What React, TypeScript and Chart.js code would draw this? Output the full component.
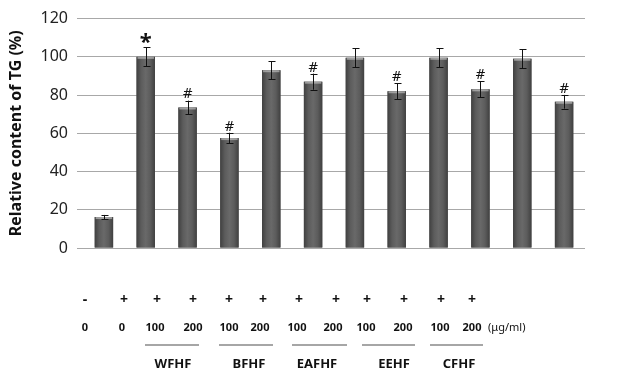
import React, { useEffect, useRef } from "react";
import { Chart, registerables } from "chart.js";
Chart.register(...registerables);

const categories = ["Normal", "Model", "WFHF 100", "WFHF 200", "BFHF 100", "BFHF 200", "EAFHF 100", "EAFHF 200", "EEHF 100", "EEHF 200", "CFHF 100", "CFHF 200"];
const values = [16.2, 100, 73.5, 57.5, 93, 87, 99.5, 82, 99.5, 83, 99, 76.5];
const errors = [1.1, 4.9, 3.6, 2.8, 4.8, 4.2, 4.9, 4.2, 5, 4.2, 5, 3.6];
const marks = ["", "*", "#", "#", "", "#", "", "#", "", "#", "", "#"];
const signs = ["-", "+", "+", "+", "+", "+", "+", "+", "+", "+", "+", "+"];
const doses = ["0", "0", "100", "200", "100", "200", "100", "200", "100", "200", "100", "200"];
const groups = ["WFHF", "BFHF", "EAFHF", "EEHF", "CFHF"];
const unitLabel = "(\u03bcg/ml)";
const yTitle = "Relative content of TG (%)";

// layout of the free-text annotation table below the chart (pixels)
const signX = [85, 124, 157, 193, 229, 263, 299, 336, 367, 404, 441, 472];
const doseX = [85, 122, 155, 193, 229, 260, 297, 333, 366, 403, 440, 472];
const groupSpan = [[145, 199], [219, 273], [292, 347], [362, 415], [430, 483]];
const groupX = [173, 249, 317, 394, 459];

const FONT = "'Noto Sans', 'DejaVu Sans', sans-serif";

export default function App() {
  const ref = useRef<HTMLCanvasElement>(null);
  useEffect(() => {
    document.body.style.margin = "0";
    const barPlugin = {
      id: "barDecor",
      afterDatasetsDraw(chart: any) {
        const ctx = chart.ctx;
        const meta = chart.getDatasetMeta(0);
        const y = chart.scales.y;
        ctx.save();
        meta.data.forEach((bar: any, i: number) => {
          const w = bar.width;
          const left = bar.x - w / 2;
          const top = bar.y;
          const h = bar.base - bar.y;
          const g = ctx.createLinearGradient(left, 0, left + w, 0);
          g.addColorStop(0, "#404040");
          g.addColorStop(0.25, "#5c5c5c");
          g.addColorStop(0.5, "#696969");
          g.addColorStop(0.75, "#5c5c5c");
          g.addColorStop(1, "#404040");
          ctx.fillStyle = g;
          ctx.fillRect(left, top, w, h);
          ctx.fillStyle = "rgba(205,205,205,0.6)";
          ctx.fillRect(left + 1, top, w - 2, 2);
          // error bars
          const hi = y.getPixelForValue(values[i] + errors[i]);
          const lo = y.getPixelForValue(values[i] - errors[i]);
          ctx.strokeStyle = "#111";
          ctx.lineWidth = 1;
          ctx.beginPath();
          const cx = Math.round(bar.x) + 0.5;
          ctx.moveTo(cx, hi);
          ctx.lineTo(cx, lo);
          ctx.moveTo(cx - 3, Math.round(hi) + 0.5);
          ctx.lineTo(cx + 4, Math.round(hi) + 0.5);
          ctx.moveTo(cx - 3, Math.round(lo) + 0.5);
          ctx.lineTo(cx + 4, Math.round(lo) + 0.5);
          ctx.stroke();
          // significance marks
          if (marks[i]) {
            ctx.fillStyle = "#111";
            ctx.textAlign = "center";
            ctx.textBaseline = "bottom";
            if (marks[i] === "*") {
              ctx.font = `bold 22px ${FONT}`;
              ctx.fillText(marks[i], bar.x, hi + 6);
            } else {
              ctx.font = `13px 'DejaVu Serif', serif`;
              ctx.fillText(marks[i], bar.x, hi + 1);
            }
          }
        });
        // annotation table below
        ctx.fillStyle = "#111";
        ctx.textAlign = "center";
        ctx.textBaseline = "middle";
        ctx.font = `bold 14px ${FONT}`;
        signs.forEach((s, i) => ctx.fillText(s, signX[i], 300));
        ctx.font = `bold 11px ${FONT}`;
        doses.forEach((d, i) => ctx.fillText(d, doseX[i], 328));
        ctx.textAlign = "left";
        ctx.font = `11px ${FONT}`;
        ctx.fillText(unitLabel, 488, 328);
        ctx.strokeStyle = "#888";
        ctx.lineWidth = 1.5;
        groupSpan.forEach(([a, b]) => {
          ctx.beginPath();
          ctx.moveTo(a, 345);
          ctx.lineTo(b, 345);
          ctx.stroke();
        });
        ctx.textAlign = "center";
        ctx.font = `bold 13px ${FONT}`;
        groups.forEach((g, i) => ctx.fillText(g, groupX[i], 364));
        ctx.restore();
      },
    };
    const chart = new Chart(ref.current!, {
      type: "bar",
      data: {
        labels: categories,
        datasets: [
          {
            data: values,
            backgroundColor: "#555",
            barPercentage: 0.44,
            categoryPercentage: 1,
          },
        ],
      },
      options: {
        animation: false,
        responsive: false,
        devicePixelRatio: 1,
        layout: { padding: { top: 18, right: 39, left: 0, bottom: 0 } },
        plugins: { legend: { display: false }, tooltip: { enabled: false } },
        scales: {
          x: {
            grid: { display: false },
            border: { display: false },
            ticks: { display: false },
            afterFit: (s: any) => {
              s.height = 124;
            },
          },
          y: {
            min: 0,
            max: 120,
            ticks: { stepSize: 20, padding: 9, color: "#222", font: { size: 16, family: FONT } },
            grid: { color: "#a8a8a8", tickLength: 6, lineWidth: 1 },
            border: { display: false },
            title: {
              display: true,
              text: yTitle,
              color: "#111",
              font: { size: 16, weight: "bold", family: FONT },
              padding: { top: 7, bottom: 0 },
            },
            afterFit: (s: any) => {
              s.width = 83;
            },
          },
        },
      },
      plugins: [barPlugin],
    });
    return () => chart.destroy();
  }, []);
  return (
    <div style={{ position: "fixed", left: 0, top: 0, width: 624, height: 372, background: "#fff" }}>
      <canvas ref={ref} width={624} height={372} />
    </div>
  );
}
